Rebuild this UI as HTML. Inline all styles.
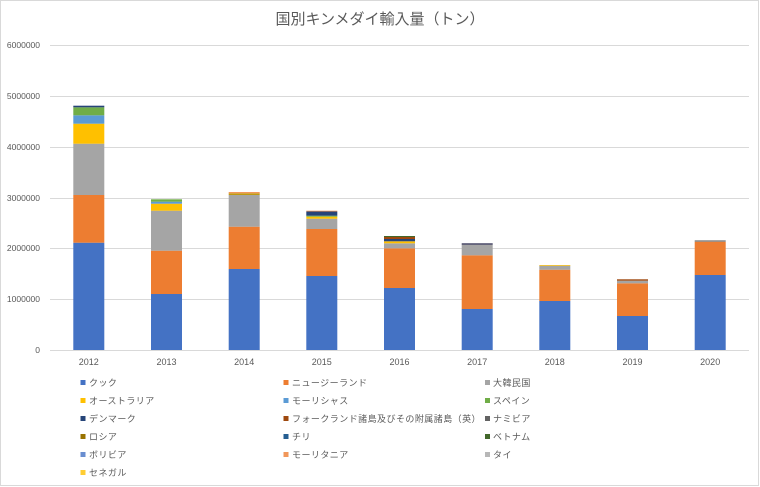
<!DOCTYPE html>
<html><head><meta charset="utf-8"><style>
html,body{margin:0;padding:0;background:#fff;}
svg{display:block;}
text{font-family:"Liberation Sans","Noto Sans CJK JP",sans-serif;fill:#595959;}
.lg{font-size:9px;letter-spacing:0.45px;}
</style></head><body>
<svg width="760" height="487" viewBox="0 0 760 487" xmlns="http://www.w3.org/2000/svg">
<rect x="0" y="0" width="760" height="487" fill="#fff"/>
<rect x="0.5" y="0.5" width="758" height="485" fill="none" stroke="#D9D9D9"/>
<text x="380" y="24" text-anchor="middle" style="font-size:15px">国別キンメダイ輸入量（トン）</text>
<g stroke="#D9D9D9" stroke-width="1">
<line x1="50" y1="45.5" x2="749" y2="45.5"/>
<line x1="50" y1="96.5" x2="749" y2="96.5"/>
<line x1="50" y1="147.5" x2="749" y2="147.5"/>
<line x1="50" y1="198.5" x2="749" y2="198.5"/>
<line x1="50" y1="248.5" x2="749" y2="248.5"/>
<line x1="50" y1="299.5" x2="749" y2="299.5"/>
<line x1="50" y1="350.5" x2="749" y2="350.5"/>
</g>
<g style="font-size:8.5px" text-anchor="end">
<text x="40" y="48">6000000</text>
<text x="40" y="99">5000000</text>
<text x="40" y="150">4000000</text>
<text x="40" y="201">3000000</text>
<text x="40" y="251">2000000</text>
<text x="40" y="302">1000000</text>
<text x="40" y="353">0</text>
</g>
<g style="font-size:9px" text-anchor="middle">
<text x="88.8" y="365">2012</text>
<text x="166.5" y="365">2013</text>
<text x="244.2" y="365">2014</text>
<text x="321.8" y="365">2015</text>
<text x="399.5" y="365">2016</text>
<text x="477.2" y="365">2017</text>
<text x="554.8" y="365">2018</text>
<text x="632.5" y="365">2019</text>
<text x="710.2" y="365">2020</text>
</g>
<!-- 2012 -->
<g transform="translate(73.3,0)">
<rect x="0" width="31" y="242.7" height="107.3" fill="#4472C4"/>
<rect x="0" width="31" y="195" height="47.7" fill="#ED7D31"/>
<rect x="0" width="31" y="143.7" height="51.3" fill="#A5A5A5"/>
<rect x="0" width="31" y="123.7" height="20" fill="#FFC000"/>
<rect x="0" width="31" y="115.3" height="8.4" fill="#5B9BD5"/>
<rect x="0" width="31" y="107.3" height="8" fill="#70AD47"/>
<rect x="0" width="31" y="105.7" height="1.6" fill="#264478"/>
</g>
<!-- 2013 -->
<g transform="translate(151,0)">
<rect x="0" width="31" y="294" height="56" fill="#4472C4"/>
<rect x="0" width="31" y="250.7" height="43.3" fill="#ED7D31"/>
<rect x="0" width="31" y="210.7" height="40" fill="#A5A5A5"/>
<rect x="0" width="31" y="203.7" height="7" fill="#FFC000"/>
<rect x="0" width="31" y="201.7" height="2" fill="#5B9BD5"/>
<rect x="0" width="31" y="199.3" height="2.4" fill="#70AD47"/>
</g>
<!-- 2014 -->
<g transform="translate(228.7,0)">
<rect x="0" width="31" y="269" height="81" fill="#4472C4"/>
<rect x="0" width="31" y="226.7" height="42.3" fill="#ED7D31"/>
<rect x="0" width="31" y="195" height="31.7" fill="#A5A5A5"/>
<rect x="0" width="31" y="193.3" height="1.7" fill="#BF9A10"/>
<rect x="0" width="31" y="192" height="1.3" fill="#F1975A"/>
</g>
<!-- 2015 -->
<g transform="translate(306.3,0)">
<rect x="0" width="31" y="276" height="74" fill="#4472C4"/>
<rect x="0" width="31" y="229" height="47" fill="#ED7D31"/>
<rect x="0" width="31" y="218.7" height="10.3" fill="#A5A5A5"/>
<rect x="0" width="31" y="216.7" height="2" fill="#FFC000"/>
<rect x="0" width="31" y="215.7" height="1" fill="#70AD47"/>
<rect x="0" width="31" y="211.5" height="4.2" fill="#264478"/>
<rect x="0" width="31" y="210.7" height="0.8" fill="#F1975A"/>
</g>
<!-- 2016 -->
<g transform="translate(384,0)">
<rect x="0" width="31" y="288" height="62" fill="#4472C4"/>
<rect x="0" width="31" y="248.3" height="39.7" fill="#ED7D31"/>
<rect x="0" width="31" y="243.3" height="5" fill="#A5A5A5"/>
<rect x="0" width="31" y="241.3" height="2" fill="#FFC000"/>
<rect x="0" width="31" y="239" height="2.3" fill="#264478"/>
<rect x="0" width="31" y="237" height="2" fill="#9E480E"/>
<rect x="0" width="31" y="236" height="1" fill="#43682B"/>
</g>
<!-- 2017 -->
<g transform="translate(461.7,0)">
<rect x="0" width="31" y="309" height="41" fill="#4472C4"/>
<rect x="0" width="31" y="255.3" height="53.7" fill="#ED7D31"/>
<rect x="0" width="31" y="244.7" height="10.6" fill="#A5A5A5"/>
<rect x="0" width="31" y="243.3" height="1.4" fill="#3A3A5A"/>
</g>
<!-- 2018 -->
<g transform="translate(539.3,0)">
<rect x="0" width="31" y="301" height="49" fill="#4472C4"/>
<rect x="0" width="31" y="269.7" height="31.3" fill="#ED7D31"/>
<rect x="0" width="31" y="265.7" height="4" fill="#A5A5A5"/>
<rect x="0" width="31" y="265" height="0.7" fill="#FFC000"/>
</g>
<!-- 2019 -->
<g transform="translate(617,0)">
<rect x="0" width="31" y="316" height="34" fill="#4472C4"/>
<rect x="0" width="31" y="283.3" height="32.7" fill="#ED7D31"/>
<rect x="0" width="31" y="280.7" height="2.6" fill="#A5A5A5"/>
<rect x="0" width="31" y="279.3" height="1.4" fill="#9E480E"/>
</g>
<!-- 2020 -->
<g transform="translate(694.7,0)">
<rect x="0" width="31" y="275" height="75" fill="#4472C4"/>
<rect x="0" width="31" y="241.7" height="33.3" fill="#ED7D31"/>
<rect x="0" width="31" y="240.3" height="1.4" fill="#7F7F7F"/>
</g>
<!-- Legend -->
<g class="lg">
<rect x="80.5" y="380" width="5" height="5" fill="#4472C4"/><text class="lg" x="89" y="386">クック</text>
<rect x="283.5" y="380" width="5" height="5" fill="#ED7D31"/><text class="lg" x="292" y="386">ニュージーランド</text>
<rect x="485" y="380" width="5" height="5" fill="#A5A5A5"/><text class="lg" x="493" y="386">大韓民国</text>

<rect x="80.5" y="398" width="5" height="5" fill="#FFC000"/><text class="lg" x="89" y="404">オーストラリア</text>
<rect x="283.5" y="398" width="5" height="5" fill="#5B9BD5"/><text class="lg" x="292" y="404">モーリシャス</text>
<rect x="485" y="398" width="5" height="5" fill="#70AD47"/><text class="lg" x="493" y="404">スペイン</text>

<rect x="80.5" y="416" width="5" height="5" fill="#264478"/><text class="lg" x="89" y="422">デンマーク</text>
<rect x="283.5" y="416" width="5" height="5" fill="#9E480E"/><text class="lg" x="292" y="422">フォークランド諸島及びその附属諸島（英）</text>
<rect x="485" y="416" width="5" height="5" fill="#636363"/><text class="lg" x="493" y="422">ナミビア</text>

<rect x="80.5" y="434" width="5" height="5" fill="#997300"/><text class="lg" x="89" y="440">ロシア</text>
<rect x="283.5" y="434" width="5" height="5" fill="#255E91"/><text class="lg" x="292" y="440">チリ</text>
<rect x="485" y="434" width="5" height="5" fill="#43682B"/><text class="lg" x="493" y="440">ベトナム</text>

<rect x="80.5" y="452" width="5" height="5" fill="#698ED0"/><text class="lg" x="89" y="458">ボリビア</text>
<rect x="283.5" y="452" width="5" height="5" fill="#F1975A"/><text class="lg" x="292" y="458">モーリタニア</text>
<rect x="485" y="452" width="5" height="5" fill="#B7B7B7"/><text class="lg" x="493" y="458">タイ</text>

<rect x="80.5" y="470" width="5" height="5" fill="#FFCD33"/><text class="lg" x="89" y="476">セネガル</text>
</g>
</svg>
</body></html>
